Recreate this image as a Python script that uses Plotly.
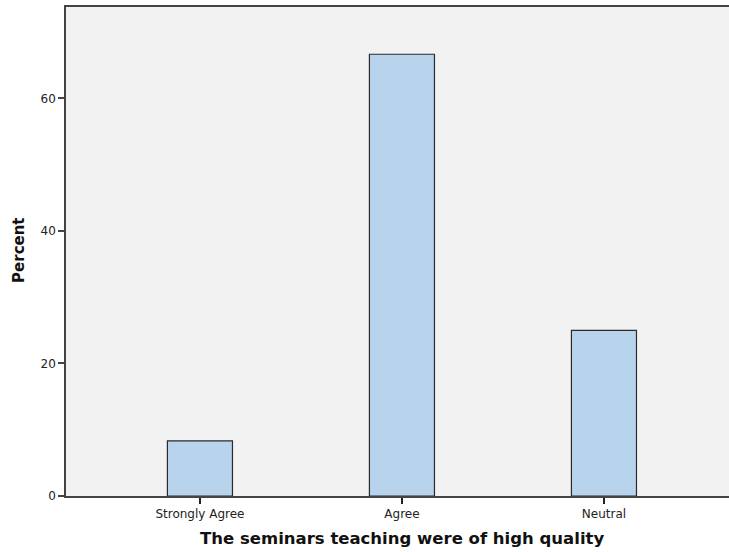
import plotly.graph_objects as go

categories = ["Strongly Agree", "Agree", "Neutral"]
percent = [8.33, 66.67, 25.0]
y_ticks = [0, 20, 40, 60]

fig = go.Figure()
fig.add_trace(go.Bar(
    x=categories, y=percent, width=0.322,
    marker=dict(color="#b8d4ec", line=dict(color="#2a2a2a", width=1.2)),
    hoverinfo="x+y",
))

font_family = "DejaVu Sans"
L, T, B = 65.5, 6.5, 495.7
fig.update_layout(
    width=729, height=552,
    margin=dict(l=L, r=0, t=T, b=552 - B),
    paper_bgcolor="white", plot_bgcolor="#f2f2f2",
    showlegend=False,
    font=dict(family=font_family, color="#222222"),
    xaxis=dict(
        range=[-0.663, 2.619], showgrid=False, zeroline=False,
        showline=True, linecolor="#444444", linewidth=1.5, mirror=True,
        ticks="outside", ticklen=6, tickcolor="#222222", tickwidth=1.5,
        tickfont=dict(size=12, family=font_family, color="#222222"),
        fixedrange=True,
    ),
    yaxis=dict(
        range=[0, 73.8], tickvals=y_ticks, showgrid=False, zeroline=False,
        showline=True, linecolor="#444444", linewidth=1.5,
        ticks="outside", ticklen=6, tickcolor="#444444", tickwidth=1.5,
        tickfont=dict(size=12, family=font_family, color="#222222"),
        fixedrange=True,
    ),
    annotations=[
        dict(text="<b>The seminars teaching were of high quality</b>",
             xref="paper", yref="paper", x=(401.5 - L) / (729 - L),
             y=-(538 - B) / (B - T), xanchor="center", yanchor="middle",
             showarrow=False, font=dict(size=16.5, family=font_family, color="#111111")),
        dict(text="<b>Percent</b>", textangle=-90,
             xref="paper", yref="paper", x=-(L - 19) / (729 - L),
             y=(B - 250) / (B - T), xanchor="center", yanchor="middle",
             showarrow=False, font=dict(size=15, family=font_family, color="#111111")),
    ],
)

fig.write_html("out.html", config={"displayModeBar": False},
               post_script="document.body.style.margin='0';document.body.style.overflow='hidden';")
